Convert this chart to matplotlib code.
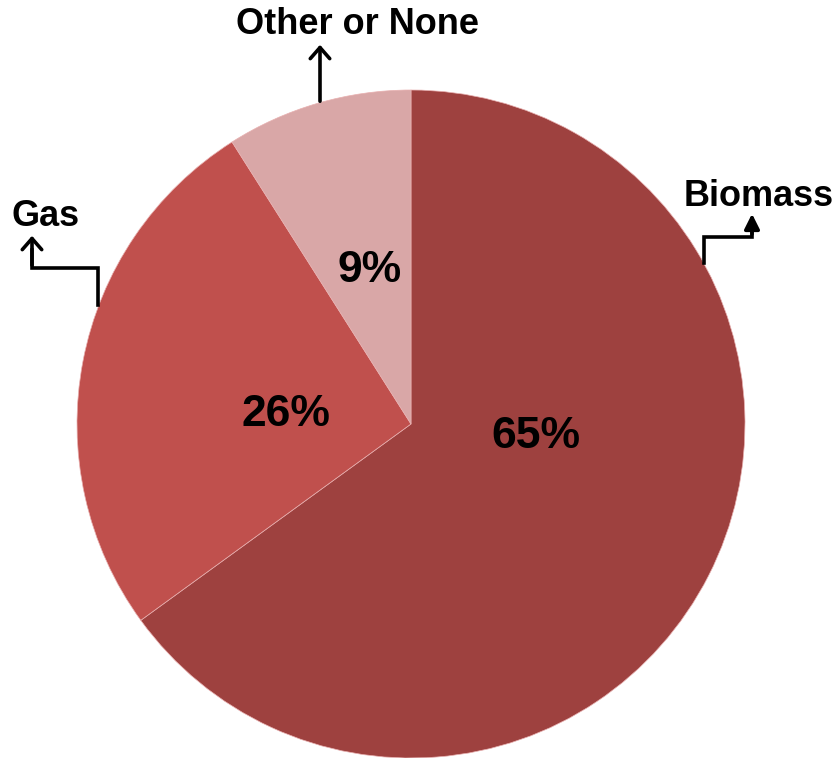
import matplotlib.pyplot as plt

# chart data
categories = ["Biomass", "Gas", "Other or None"]
shares = [65, 26, 9]
colors = ["#9E413F", "#C0504D", "#D9A7A7"]

W, H = 840, 758


def px(x, y):
    # picture pixel -> data coords (y up)
    return x, H - y


fig = plt.figure(figsize=(W / 100, H / 100), dpi=100)
ax = fig.add_axes([0, 0, 1, 1])

center = px(411, 424)
wedges, texts, autotexts = ax.pie(
    shares,
    colors=colors,
    startangle=90,
    counterclock=False,
    center=center,
    radius=334,
    autopct="%d%%",
    wedgeprops=dict(edgecolor="#e8b0b0", linewidth=0.5),
    textprops=dict(fontsize=32, fontweight="bold", family="Liberation Sans"),
)

# percentage labels sit where the original put them
pct_pos = [px(536, 436), px(286, 415), px(370, 270)]
for t, pos in zip(autotexts, pct_pos):
    t.set_position(pos)
    t.set_ha("center")
    t.set_va("center")

ax.set_xlim(0, W)
ax.set_ylim(0, H)
ax.set_aspect("equal")
ax.axis("off")

lab_font = dict(fontsize=26, fontweight="bold", family="Liberation Sans", color="black")
lw = 2.6
open_head = dict(arrowstyle="->,head_length=0.8,head_width=0.7", lw=lw, color="black")
solid_head = dict(arrowstyle="-|>,head_length=0.9,head_width=0.45", lw=lw, color="black")

# Other or None: straight arrow up
ax.annotate("", xy=px(320, 42), xytext=px(320, 104), arrowprops=open_head)
ax.text(*px(358, 24), categories[2], ha="center", va="center", **lab_font)

# Gas: stepped arrow
gx, gy = zip(px(98, 305), px(98, 268), px(32, 268), px(32, 250))
ax.plot(gx, gy, color="black", lw=lw, solid_joinstyle="miter")
ax.annotate("", xy=px(32, 233), xytext=px(32, 268), arrowprops=open_head)
ax.text(*px(46, 217), categories[1], ha="center", va="center", **lab_font)

# Biomass: stepped arrow with filled head
bx, by = zip(px(704, 263), px(704, 237), px(752, 237), px(752, 225))
ax.plot(bx, by, color="black", lw=lw, solid_joinstyle="miter")
ax.annotate("", xy=px(752, 211), xytext=px(752, 237), arrowprops=solid_head)
ax.text(*px(759, 197), categories[0], ha="center", va="center", **lab_font)

fig.savefig("out.png", dpi=100, facecolor="white")
